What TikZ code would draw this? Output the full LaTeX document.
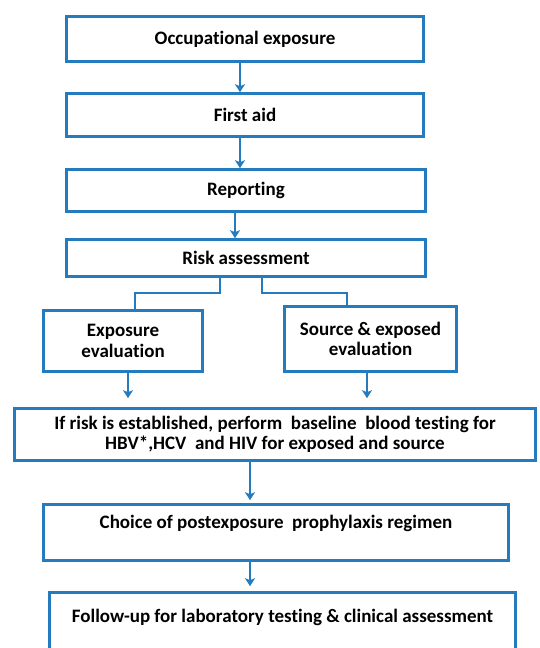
\documentclass[tikz,border=0pt]{standalone}
\usepackage{fontspec}
\setmainfont{Carlito}[Ligatures=NoCommon]
\usetikzlibrary{arrows.meta}
\definecolor{boxblue}{RGB}{36,124,190}
\begin{document}
\begin{tikzpicture}[x=1pt,y=-1pt,
  box/.style={draw=boxblue,line width=2.6pt,fill=white,inner sep=0pt,align=center,
    font=\bfseries\fontsize{19}{20.5}\selectfont},
  arr/.style={draw=boxblue,line width=2.4pt,-{Stealth[length=8pt,width=10pt,inset=2pt]}},
  link/.style={draw=boxblue,line width=2.4pt}]
\useasboundingbox (0,0) rectangle (539,648);
\clip (0,0) rectangle (539,648);
\node[box,minimum width=357pt,minimum height=45pt] (b1) at (245,39) {Occupational exposure};
\node[box,minimum width=357pt,minimum height=43pt] (b2) at (245,115) {First aid};
\node[box,minimum width=359pt,minimum height=42pt] (b3) at (246,190.5) {Reporting};
\node[box,minimum width=359pt,minimum height=37pt] (b4) at (246,258) {Risk assessment};
\node[box,minimum width=159pt,minimum height=61pt] (el) at (123,341) {Exposure\\evaluation};
\node[box,minimum width=172pt,minimum height=65pt] (er) at (370.5,339) {Source \& exposed\\evaluation};
\node[box,minimum width=521pt,minimum height=52pt] (bb) at (275,434.5) {If risk is established, perform\ \ baseline\ \ blood testing for\\HBV*,HCV\ \ and HIV for exposed and source};
\node[box,minimum width=465pt,minimum height=56pt,text height=14pt,text depth=23pt] (ch) at (276,532.5) {Choice of postexposure\ \ prophylaxis regimen};
\node[box,minimum width=466pt,minimum height=76pt,text height=14pt,text depth=31pt] (fu) at (282.5,630.5) {Follow-up for laboratory testing \& clinical assessment};
\draw[arr] ([xshift=-5pt]b1.south) -- ([xshift=-5pt]b1.south |- b2.north);
\draw[arr] ([xshift=-5pt]b2.south) -- ([xshift=-5pt]b2.south |- b3.north);
\draw[arr] ([xshift=-11pt]b3.south) -- ([xshift=-11pt]b3.south |- b4.north);
\draw[link] ([xshift=-26pt]b4.south) -- ++(0,15) -| ([xshift=12pt]el.north);
\draw[link] ([xshift=16pt]b4.south) -- ++(0,15) -| ([xshift=-23.5pt]er.north);
\draw[arr,shorten >=9pt] ([xshift=5pt]el.south) -- ([xshift=5pt]el.south |- bb.north);
\draw[arr,shorten >=9pt] ([xshift=-3.5pt]er.south) -- ([xshift=-3.5pt]er.south |- bb.north);
\draw[arr,shorten >=3pt] ([xshift=-25pt]bb.south) -- ([xshift=-25pt]bb.south |- ch.north);
\draw[arr,shorten >=5pt] ([xshift=-26pt]ch.south) -- ([xshift=-26pt]ch.south |- fu.north);
\end{tikzpicture}
\end{document}
